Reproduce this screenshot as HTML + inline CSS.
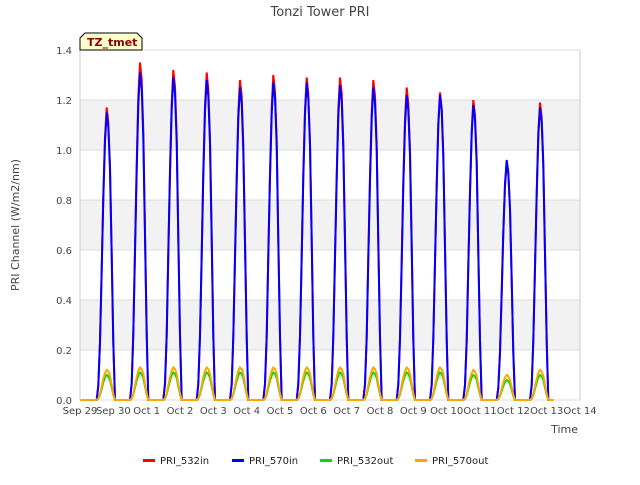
<!DOCTYPE html>
<html><head><meta charset="utf-8"><style>
body{margin:0;background:#fff;font-family:"Liberation Sans","DejaVu Sans",sans-serif}
svg text{font-family:"DejaVu Sans","Liberation Sans",sans-serif}
</style></head><body>
<svg id="c" width="640" height="480" xmlns="http://www.w3.org/2000/svg">
<rect width="640" height="480" fill="#fff"/>
<g id="bands"></g>
<g id="grid"></g>
<g id="series"></g>
<g id="axes"></g>
<text x="320" y="16" text-anchor="middle" font-size="13" fill="#444">Tonzi Tower PRI</text>
<text x="19" y="225" text-anchor="middle" font-size="11" fill="#444" transform="rotate(-90 19 225)">PRI Channel (W/m2/nm)</text>
<text x="578" y="433" text-anchor="end" font-size="11" fill="#444">Time</text>
<g>
<path d="M80,50 L80,38 L85,33 L137,33 L142,38 L142,50 Z" fill="#ffffcc" stroke="#000" stroke-width="1"/>
<text x="87" y="46" font-size="11" font-weight="bold" fill="#8b0000">TZ_tmet</text>
</g>
<g id="legend"></g>
</svg>
<script>
const days=["Sep 29","Sep 30","Oct 1","Oct 2","Oct 3","Oct 4","Oct 5","Oct 6","Oct 7","Oct 8","Oct 9","Oct 10","Oct 11","Oct 12","Oct 13","Oct 14"];
const yTicks=[0,0.2,0.4,0.6,0.8,1.0,1.2,1.4];
const peak532in=[1.17,1.35,1.32,1.31,1.28,1.30,1.29,1.29,1.28,1.25,1.23,1.20,0.95,1.19];
const peak570in=[1.15,1.31,1.29,1.28,1.25,1.27,1.27,1.26,1.25,1.22,1.22,1.18,0.96,1.17];
const peak532out=[0.10,0.11,0.11,0.11,0.11,0.11,0.11,0.11,0.11,0.11,0.11,0.10,0.08,0.10];
const peak570out=[0.12,0.13,0.13,0.13,0.13,0.13,0.13,0.13,0.13,0.13,0.13,0.12,0.10,0.12];
const profileFrac=[0.5,0.55,0.6,0.65,0.7,0.75,0.8,0.85,0.9,0.95,1.0,1.05];
const profileVal=[0,0.05,0.2,0.45,0.7,0.9,1,0.95,0.8,0.5,0.2,0];
const X0=80,X1=580,Y0=400,Y1=50;
const xs=d=>X0+d*(X1-X0)/15;
const ys=v=>Y0-v*(Y0-Y1)/1.4;
const NS="http://www.w3.org/2000/svg";
function mk(tag,attrs,parent){const e=document.createElementNS(NS,tag);for(const k in attrs)e.setAttribute(k,attrs[k]);parent.appendChild(e);return e;}
const bands=document.getElementById('bands'),grid=document.getElementById('grid'),axes=document.getElementById('axes'),series=document.getElementById('series'),legend=document.getElementById('legend');
for(let i=0;i<yTicks.length-1;i++){if(i%2===1){const r=mk('rect',{x:X0,y:ys(yTicks[i+1]),width:X1-X0,height:ys(yTicks[i])-ys(yTicks[i+1]),fill:'#f2f2f2'},bands);

}}
yTicks.forEach(v=>{const l=mk('line',{x1:X0,x2:X1,y1:ys(v),y2:ys(v),stroke:'#dcdcdc'},grid);


const t=mk('text',{x:X0-8,y:ys(v)+4,'text-anchor':'end','font-size':'10',fill:'#444'},axes);t.textContent=v.toFixed(1);

});
mk('line',{x1:X0,x2:X0,y1:Y1,y2:Y0,stroke:'#ccc'},axes);
mk('line',{x1:X1,x2:X1,y1:Y1,y2:Y0,stroke:'#ccc'},axes);
days.forEach((d,i)=>{const t=mk('text',{x:xs(i),y:414,'text-anchor':'middle','font-size':'10',fill:'#444'},axes);t.textContent=d;

});
function draw(peaks,color,name){let pts=[[0,0]];peaks.forEach((p,i)=>{profileFrac.forEach((f,j)=>pts.push([i+f,p*profileVal[j]]));});pts.push([14.2,0]);
const pl=mk('polyline',{points:pts.map(q=>xs(q[0]).toFixed(1)+','+ys(q[1]).toFixed(1)).join(' '),fill:'none',stroke:color,'stroke-width':'2'},series);

}
draw(peak532in,'#ff0000','series-pri-532in');
draw(peak570in,'#0000ff','series-pri-570in');
draw(peak532out,'#00dd00','series-pri-532out');
draw(peak570out,'#ffa500','series-pri-570out');
const leg=[["PRI_532in","#ff0000",143],["PRI_570in","#0000ff",232],["PRI_532out","#00dd00",320],["PRI_570out","#ffa500",415]];
leg.forEach(l=>{const g=mk('g',{},legend);


mk('rect',{x:l[2],y:459,width:12,height:3,fill:l[1]},g);const t=mk('text',{x:l[2]+17,y:464,'font-size':'10',fill:'#222'},g);t.textContent=l[0];});
</script>
</body></html>
